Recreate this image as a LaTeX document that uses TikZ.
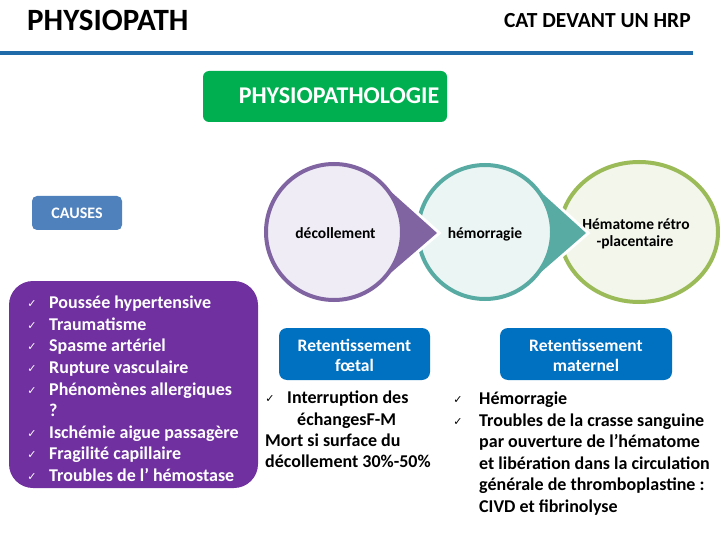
\documentclass[tikz,border=0pt]{standalone}
\usepackage{fontspec}
\setmainfont{Carlito}
\newfontfamily\dv{DejaVu Sans}
\definecolor{lineblue}{RGB}{31,106,168}
\definecolor{pgreen}{RGB}{0,176,80}
\definecolor{causeblue}{RGB}{79,129,189}
\definecolor{boxpurple}{RGB}{112,48,160}
\definecolor{retblue}{RGB}{0,112,192}
\definecolor{cpurple}{RGB}{128,100,162}
\definecolor{cpurplefill}{RGB}{240,236,246}
\definecolor{cteal}{RGB}{88,171,163}
\definecolor{ctealfill}{RGB}{235,245,244}
\definecolor{colive}{RGB}{155,187,89}
\definecolor{colivefill}{RGB}{243,246,235}
\begin{document}
\begin{tikzpicture}[x=1pt,y=-1pt,
  txt/.style={inner sep=0pt, text height=0.7em, text depth=0.2em, yshift=-3pt},
  lst/.style={txt, anchor=west, font=\fontsize{18}{21.6}\selectfont\bfseries},
  wlst/.style={lst, text=white},
  chk/.style={inner sep=0pt, yshift=-3pt, font=\dv\fontsize{11}{12}\selectfont},
  wchk/.style={chk, text=white},
  ret/.style={txt, text=white, font=\fontsize{17.5}{20}\selectfont\bfseries},
  clab/.style={txt, font=\fontsize{15.5}{17}\selectfont\bfseries},
  ring/.style={line width=4pt}
]
\useasboundingbox (0,0) rectangle (720,540);

% header
\node[txt, anchor=west, font=\fontsize{31}{34}\selectfont\bfseries] (t1) at (27,25) {PHYSIOPATH};
\node[txt, anchor=east, font=\fontsize{21.5}{24}\selectfont\bfseries] (t2) at (691,22) {CAT DEVANT UN HRP};
\coordinate (la) at (0,53);
\coordinate (lb) at (693,53);
\draw[lineblue, line width=4pt] (la) -- (lb);

% physiopathologie box
\fill[pgreen, rounded corners=6pt] (203,71) rectangle (447,122);
\node[txt, text=white, font=\fontsize{24}{26}\selectfont\bfseries] (pp) at (339,98) {PHYSIOPATHOLOGIE};

% causes
\fill[causeblue, rounded corners=5pt] (32,196) rectangle (122,230);
\node[txt, text=white, font=\fontsize{16}{18}\selectfont\bfseries] (cs) at (77,213) {CAUSES};

\fill[boxpurple, rounded corners=24pt] (9,281) rectangle (258,488);
\foreach \i/\y/\t in {1/303/Poussée hypertensive, 2/325/Traumatisme, 3/346/Spasme artériel, 4/368/Rupture vasculaire, 5/390/Phénomènes allergiques, 7/433/Ischémie aigue passagère, 8/454/Fragilité capillaire, 9/476/Troubles de l’ hémostase}{
  \node[wchk] (ck\i) at (32,\y-2) {✓};
  \node[wlst] (c\i) at (49,\y) {\t};
}
\node[wlst] (c6) at (49,411) {?};

% circles (drawn right to left so arrows overlay)
\fill[colivefill] (639,232) ellipse [x radius=79, y radius=70];
\draw[colive, ring] (639,232) ellipse [x radius=79, y radius=70];
\node[clab] (h3a) at (636,224) {Hématome rétro};
\node[clab] (h3b) at (635,241) {-placentaire};

% arrow 2
\draw[white, line width=6pt, line join=miter] (529.4,181.8) -- (586,233) -- (529.4,282.2);
\fill[cteal] (485,232) -- (529.4,181.8) -- (586,233) -- (529.4,282.2) -- cycle;
\fill[ctealfill] (485,232) circle [radius=67];
\draw[cteal, ring] (485,232) circle [radius=67];
\node[clab] (h2) at (485,233) {hémorragie};

% arrow 1
\draw[white, line width=6pt, line join=miter] (378.9,180.9) -- (437,233) -- (378.9,283.1);
\fill[cpurple] (334,232) -- (378.9,180.9) -- (437,233) -- (378.9,283.1) -- cycle;
\fill[cpurplefill] (334,232) circle [radius=68];
\draw[cpurple, ring] (334,232) circle [radius=68];
\node[clab] (h1) at (335.5,233) {décollement};

% retentissement boxes
\fill[retblue, rounded corners=8pt] (279,328) rectangle (430,380);
\node[ret] (rf1) at (354.5,346) {Retentissement};
\node[ret] (rf2) at (354.5,366) {fœtal};
\fill[retblue, rounded corners=8pt] (500,328) rectangle (672,380);
\node[ret] (rm1) at (586,346) {Retentissement};
\node[ret] (rm2) at (586,366) {maternel};

% foetal list
\node[chk] (fk1) at (270,396) {✓};
\node[lst] (f1) at (287,398) {Interruption des};
\node[lst] (f2) at (297,420) {échangesF-M};
\node[lst] (f3) at (265,441) {Mort si surface du};
\node[lst] (f4) at (265,462) {décollement 30\%-50\%};

% maternal list
\node[chk] (mk1) at (458,397) {✓};
\node[chk] (mk2) at (458,419) {✓};
\node[lst] (m1) at (479,399) {Hémorragie};
\node[lst] (m2) at (479,421) {Troubles de la crasse sanguine};
\node[lst] (m3) at (479,442) {par ouverture de l’hématome};
\node[lst] (m4) at (479,464) {et libération dans la circulation};
\node[lst] (m5) at (479,485) {générale de thromboplastine :};
\node[lst] (m6) at (479,507) {CIVD et fibrinolyse};
\end{tikzpicture}
\end{document}
